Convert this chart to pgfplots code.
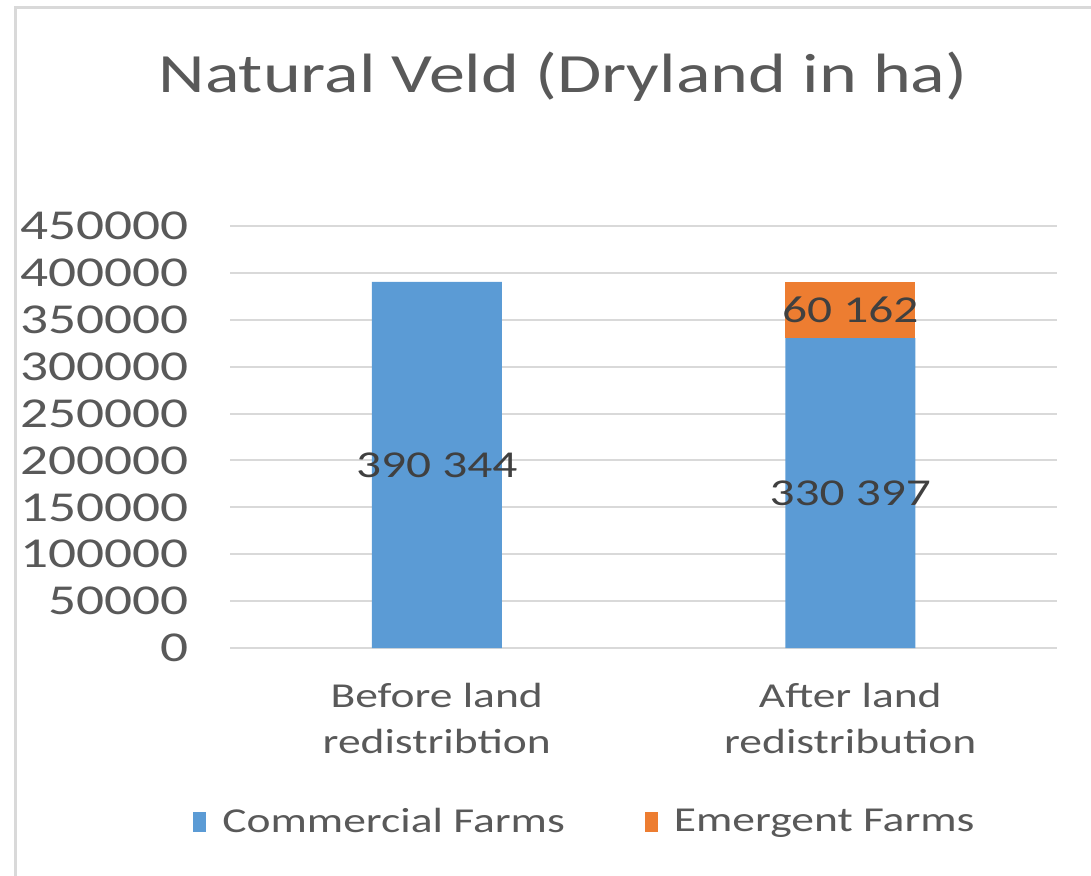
\documentclass[border=0pt]{standalone}
\usepackage{fontspec}
\setmainfont{Carlito}
\usepackage{graphicx}
\usepackage{pgfplots}
\pgfplotsset{compat=1.18}
\definecolor{cblue}{HTML}{5B9BD5}
\definecolor{corange}{HTML}{ED7D31}
\definecolor{tgray}{HTML}{595959}
\definecolor{dgray}{HTML}{404040}
\definecolor{ggray}{HTML}{D9D9D9}
\newcommand{\sx}[1]{\scalebox{1.3}[1]{#1}}
\begin{document}
\begin{tikzpicture}
\useasboundingbox (0,0) rectangle (545.5pt,-438pt);
\draw[ggray, line width=1.5pt] (7.5pt,-440pt) -- (7.5pt,-4pt) -- (548pt,-4pt);
\node[anchor=base, font=\fontsize{27.7}{32}\selectfont, text=tgray] at (281.5pt,-46.5pt) {\sx{Natural Veld (Dryland in ha)}};
\begin{axis}[
  at={(115pt,-324pt)}, anchor=south west,
  scale only axis, width=413.5pt, height=211pt,
  ybar stacked, bar width=65pt,
  xmin=-0.5, xmax=1.5, ymin=0, ymax=450000,
  scaled y ticks=false,
  axis line style={draw=none},
  ymajorgrids, grid style={ggray, line width=1pt},
  major tick length=0pt,
  xtick={0,1},
  xticklabels={{\sx{Before land}\\\sx{redistribtion}},{\sx{After land}\\\sx{redistribution}}},
  xticklabel style={align=center, font=\fontsize{17.5}{23}\selectfont, text=tgray, yshift=-14pt},
  ytick={0,50000,100000,150000,200000,250000,300000,350000,400000,450000},
  yticklabels={\sx{0},\sx{50000},\sx{100000},\sx{150000},\sx{200000},\sx{250000},\sx{300000},\sx{350000},\sx{400000},\sx{450000}},
  yticklabel style={font=\fontsize{21.3}{24}\selectfont, text=tgray, xshift=-17pt},
  legend columns=2,
  legend style={at={(-0.052,-0.412)}, anchor=west, draw=none, fill=none,
    font=\fontsize{17.5}{21}\selectfont, text=tgray,
    /tikz/every odd column/.append style={column sep=6pt},
    /tikz/every even column/.append style={column sep=38pt}},
  legend cell align=left,
  legend image code/.code={\fill[#1] (0pt,-5pt) rectangle (6.5pt,5pt);},
  clip=false,
  after end axis/.code={
    \node[font=\fontsize{19}{22}\selectfont, text=dgray] at (axis cs:0,195172) {\sx{390 344}};
    \node[font=\fontsize{19}{22}\selectfont, text=dgray] at (axis cs:1,165198) {\sx{330 397}};
    \node[font=\fontsize{19}{22}\selectfont, text=dgray] at (axis cs:1,360478) {\sx{60 162}};
  },
]
\addplot[fill=cblue, draw=none] coordinates {(0,390344) (1,330397)};
\addplot[fill=corange, draw=none] coordinates {(0,0) (1,60162)};
\legend{\sx{Commercial Farms},\sx{Emergent Farms}}
\end{axis}
\end{tikzpicture}
\end{document}
